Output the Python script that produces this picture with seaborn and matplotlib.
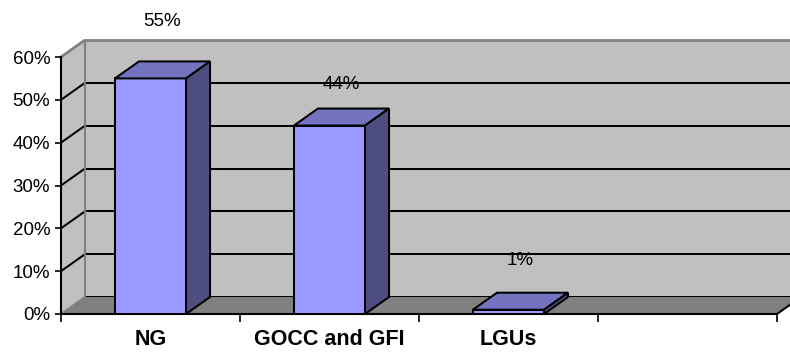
import matplotlib
matplotlib.use("Agg")
import matplotlib.pyplot as plt
from matplotlib.patches import Polygon
from matplotlib.ticker import FixedLocator
import seaborn as sns
import pandas as pd

# ---- data ----
categories = ["NG", "GOCC and GFI", "LGUs"]
values = [55, 44, 1]
value_labels = ["55%", "44%", "1%"]
label_offsets = [13.2, 9.5, 11.6]
y_ticks = [0, 10, 20, 30, 40, 50, 60]
y_tick_labels = ["0%", "10%", "20%", "30%", "40%", "50%", "60%"]
n_slots = 4  # the category axis has an empty fourth slot

# ---- style ----
FRONT = "#9999ff"
TOP = "#7373bf"
SIDE = "#4d4d80"
WALL = "#c0c0c0"
FLOOR = "#808080"
EDGE_GRAY = "#808080"
LW = 1.45

sns.set_theme(style="white")
plt.rcParams["font.family"] = ["Liberation Sans", "DejaVu Sans"]
plt.rcParams["text.color"] = "black"
plt.rcParams["xtick.color"] = "black"
plt.rcParams["ytick.color"] = "black"

fig = plt.figure(figsize=(7.9, 3.52), dpi=100)
ax = fig.add_axes([61 / 790, 38 / 352, 716 / 790, 257 / 352])
ax.set_facecolor("none")

df = pd.DataFrame({"cat": categories, "val": values})
sns.barplot(data=df, x="cat", y="val", color=FRONT, width=0.397,
            edgecolor="black", linewidth=LW, saturation=1, ax=ax, zorder=5)

x0l, x1l = -0.5, n_slots - 0.5
ymax = 60
ax.set_xlim(x0l, x1l)
ax.set_ylim(0, ymax)

# depth offsets in data units
dx = 24 / 179
dy = 17 / (257 / 60)

# back wall
ax.add_patch(Polygon([(x0l + dx, dy), (x1l + dx + 0.5, dy), (x1l + dx + 0.5, ymax + dy),
                      (x0l + dx, ymax + dy)], closed=True, facecolor=WALL,
                     edgecolor="none", clip_on=False, zorder=0))
# side wall
ax.add_patch(Polygon([(x0l, 0), (x0l + dx, dy), (x0l + dx, ymax + dy), (x0l, ymax)],
                     closed=True, facecolor=WALL, edgecolor="none", clip_on=False, zorder=0))
# gridlines
for v in y_ticks:
    col = EDGE_GRAY if v in (0, ymax) else "black"
    lw = 2.0 if v == ymax else LW
    ax.plot([x0l, x0l + dx], [v, v + dy], color=col, lw=lw, clip_on=False, zorder=1,
            solid_capstyle="butt")
    ax.plot([x0l + dx, x1l + dx + 0.5], [v + dy, v + dy], color=col if v == ymax else "black",
            lw=lw, clip_on=False, zorder=1, solid_capstyle="butt")
ax.plot([x0l + dx, x0l + dx], [dy, ymax + dy], color=EDGE_GRAY, lw=1.5, clip_on=False, zorder=1)
# floor
ax.add_patch(Polygon([(x0l, 0), (x1l, 0), (x1l + dx, dy), (x0l + dx, dy)], closed=True,
                     facecolor=FLOOR, edgecolor="none", clip_on=False, zorder=2))
ax.plot([x1l, x1l + dx], [0, dy], color="black", lw=LW, clip_on=False, zorder=2)

# 3D faces for each bar
for p in list(ax.patches):
    if p.get_facecolor()[:3] != matplotlib.colors.to_rgb(FRONT):
        continue
    bx, bw, bh = p.get_x(), p.get_width(), p.get_height()
    p.set_zorder(5)
    ax.add_patch(Polygon([(bx, bh), (bx + bw, bh), (bx + bw + dx, bh + dy), (bx + dx, bh + dy)],
                         closed=True, facecolor=TOP, edgecolor="black", lw=LW,
                         clip_on=False, zorder=5))
    ax.add_patch(Polygon([(bx + bw, 0), (bx + bw + dx, dy), (bx + bw + dx, bh + dy), (bx + bw, bh)],
                         closed=True, facecolor=SIDE, edgecolor="black", lw=LW,
                         clip_on=False, zorder=5))

# value labels
for i, (v, lab, off) in enumerate(zip(values, value_labels, label_offsets)):
    ax.text(i + dx / 2, v + off, lab, ha="center", va="center", fontsize=13.5,
            color="black", clip_on=False, zorder=6)

# axes
for s in ["top", "right"]:
    ax.spines[s].set_visible(False)
for s in ["left", "bottom"]:
    ax.spines[s].set_color("black")
    ax.spines[s].set_linewidth(1.5)
    ax.spines[s].set_zorder(4)

ax.set_yticks(y_ticks)
ax.set_yticklabels(y_tick_labels)
ax.tick_params(axis="y", which="major", left=True, length=4.3, width=1.2, pad=3.4,
               labelsize=13.5, color="black", labelcolor="black")
ax.set_xticks(range(len(categories)))
ax.set_xticklabels(categories, fontweight="bold", fontsize=15.5)
ax.xaxis.set_minor_locator(FixedLocator([x0l + i for i in range(n_slots + 1)]))
ax.tick_params(axis="x", which="major", bottom=True, length=0, pad=11, labelcolor="black")
ax.tick_params(axis="x", which="minor", bottom=True, length=5.8, width=1.2, color="black")
ax.set_xlabel("")
ax.set_ylabel("")
ax.grid(False)

fig.savefig("out.png", dpi=100)
